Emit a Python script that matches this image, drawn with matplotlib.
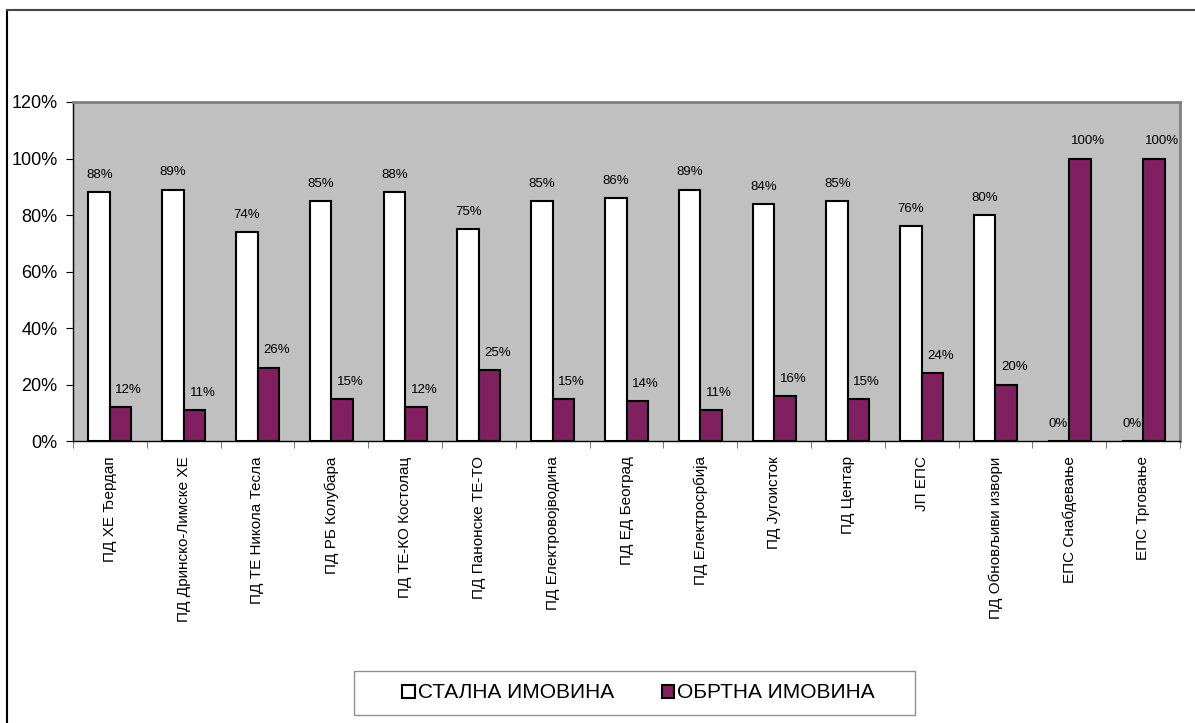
import numpy as np
import matplotlib
matplotlib.use('Agg')
import matplotlib.pyplot as plt
from matplotlib.patches import Patch, Rectangle
from matplotlib.lines import Line2D
from matplotlib.ticker import PercentFormatter

plt.rcParams['font.family'] = ['Liberation Sans', 'DejaVu Sans']

categories = ['ПД ХЕ Ђердап', 'ПД Дринско-Лимске ХЕ', 'ПД ТЕ Никола Тесла',
              'ПД РБ Колубара', 'ПД ТЕ-КО Костолац', 'ПД Панонске ТЕ-ТО',
              'ПД Електровојводина', 'ПД ЕД Београд', 'ПД Електросрбија',
              'ПД Југоисток', 'ПД Центар', 'ЈП ЕПС', 'ПД Обновљиви извори',
              'ЕПС Снабдевање', 'ЕПС Трговање']
stalna = [0.88, 0.89, 0.74, 0.85, 0.88, 0.75, 0.85, 0.86, 0.89, 0.84, 0.85, 0.76, 0.80, 0.0, 0.0]
obrtna = [0.12, 0.11, 0.26, 0.15, 0.12, 0.25, 0.15, 0.14, 0.11, 0.16, 0.15, 0.24, 0.20, 1.0, 1.0]
series_names = ['СТАЛНА ИМОВИНА', 'ОБРТНА ИМОВИНА']

purple = '#802060'
W, H = 1195, 723
fig = plt.figure(figsize=(W / 100, H / 100), dpi=100)
ax = fig.add_axes([73 / W, 1 - 441 / H, (1180 - 73) / W, (441 - 102) / H])
ax.set_facecolor('#C0C0C0')

x = np.arange(len(categories))
bw = 0.29
b1 = ax.bar(x - bw / 2, stalna, bw, color='white', edgecolor='black', linewidth=1.5)
b2 = ax.bar(x + bw / 2, obrtna, bw, color=purple, edgecolor='black', linewidth=1.5)

for bars, vals, dx in [(b1, stalna, 0.0), (b2, obrtna, 0.11)]:
    for r, v in zip(bars, vals):
        ax.annotate(f'{v:.0%}', (r.get_x() + r.get_width() / 2 + dx, v),
                    xytext=(0, 8), textcoords='offset points',
                    ha='center', va='bottom', fontsize=9.5)

ax.set_xlim(-0.5, len(categories) - 0.5)
ax.set_ylim(0, 1.2)
ax.set_yticks(np.arange(0, 1.21, 0.2))
ax.yaxis.set_major_formatter(PercentFormatter(1.0, decimals=0))
ax.tick_params(axis='y', direction='out', length=5, labelsize=13, pad=6)

ax.set_xticks(x)
ax.set_xticklabels(categories, rotation=90, va='top', ha='center', fontsize=11)
ax.tick_params(axis='x', which='major', length=0, pad=11)
ax.set_xticks(np.arange(-0.5, len(categories)), minor=True)
ax.tick_params(axis='x', which='minor', direction='out', length=5, color='#606060')

for s in ['left', 'bottom']:
    ax.spines[s].set_color('black')
    ax.spines[s].set_linewidth(1)
for s in ['top', 'right']:
    ax.spines[s].set_color('#808080')
    ax.spines[s].set_linewidth(2)

# outer chart frame (only left and top visible)
fig.add_artist(Line2D([7 / W, 7 / W], [0, 1 - 10 / H], color='black', lw=1.5))
fig.add_artist(Line2D([7 / W, 1], [1 - 10 / H, 1 - 10 / H], color='#444444', lw=1.5))

# legend box
fig.add_artist(Rectangle((354 / W, 1 - 715 / H), (915 - 354) / W, 44 / H,
                         transform=fig.transFigure, facecolor='white',
                         edgecolor='#909090', lw=1))
handles = [Patch(facecolor='white', edgecolor='black', linewidth=1.5),
           Patch(facecolor=purple, edgecolor='black', linewidth=1.5)]
leg = fig.legend(handles, series_names, loc='center',
                 bbox_to_anchor=(638.5 / W, 1 - 693 / H), ncol=2,
                 fontsize=15, frameon=False,
                 handlelength=0.58, handleheight=0.58, handletextpad=0.15,
                 columnspacing=2.3, borderpad=0, borderaxespad=0)

fig.savefig('out.png', dpi=100)
